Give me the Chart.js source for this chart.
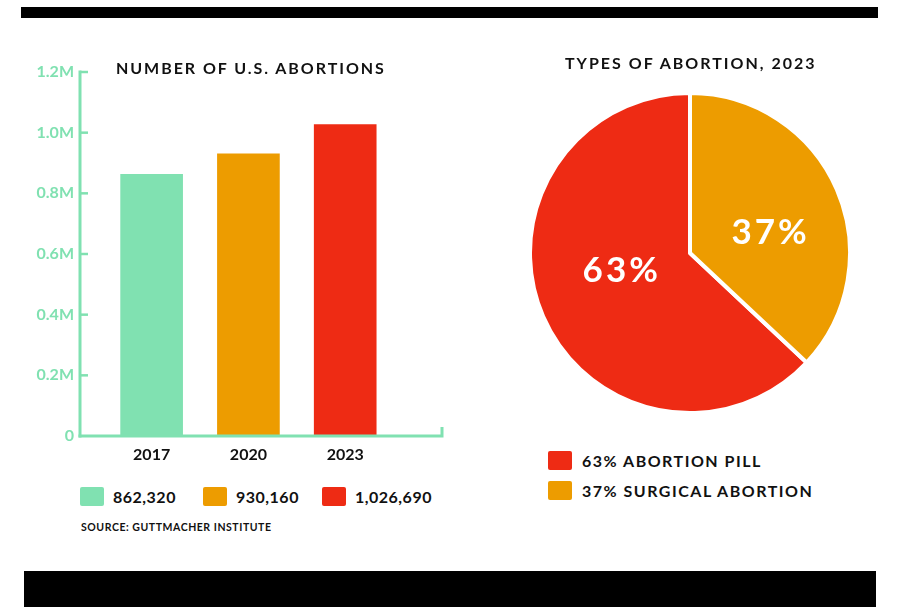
<!DOCTYPE html>
<html>
<head>
<meta charset="utf-8">
<script src="https://cdn.jsdelivr.net/npm/chart.js@4"></script>
<style>
  html, body { margin: 0; padding: 0; background: #fff; }
  body { width: 900px; height: 615px; position: relative; overflow: hidden; font-family: Lato, "Noto Sans", sans-serif; }
  .bar { position: absolute; background: #000; }
  .title { position: absolute; font-weight: 700; font-size: 16px; color: #111; white-space: nowrap; line-height: 20px; }
  #barWrap { position: absolute; left: 0; top: 0; width: 460px; height: 470px; }
  #pieWrap { position: absolute; left: 528px; top: 91px; width: 324px; height: 324px; }
  .legend { position: absolute; display: flex; align-items: center; font-weight: 700; font-size: 16px; color: #111; white-space: nowrap; }
  .sw { display: inline-block; width: 24px; height: 19px; border-radius: 2px; }
  .src { position: absolute; font-size: 10.5px; font-weight: 700; letter-spacing: 0.55px; color: #111; white-space: nowrap; }
</style>
</head>
<body>
<div class="bar" style="left:21px; top:7px; width:857px; height:11px;"></div>
<div class="bar" style="left:24px; top:571px; width:852px; height:36px;"></div>

<div id="barWrap"><canvas id="barChart"></canvas></div>
<div id="pieWrap"><canvas id="pieChart"></canvas></div>

<div class="title" id="barTitle" style="left:116px; top:58px; letter-spacing:1.95px;"></div>
<div class="title" id="pieTitle" style="left:565px; top:53px; letter-spacing:2.0px;"></div>

<div id="barLegend"></div>
<div id="pieLegend"></div>
<div class="src" id="source" style="left:81px; top:521px;"></div>

<script>
// ---------- data ----------
const barTitle = "NUMBER OF U.S. ABORTIONS";
const pieTitle = "TYPES OF ABORTION, 2023";
const years = ["2017", "2020", "2023"];
const abortions = [862320, 930160, 1026690];
const barLegendLabels = ["862,320", "930,160", "1,026,690"];
const yTickValues = [0, 200000, 400000, 600000, 800000, 1000000, 1200000];
const yTickLabels = ["0", "0.2M", "0.4M", "0.6M", "0.8M", "1.0M", "1.2M"];
const pieLabels = ["63% ABORTION PILL", "37% SURGICAL ABORTION"];
const pieShares = [63, 37];
const pieValueLabels = ["63%", "37%"];
const sourceText = "SOURCE: GUTTMACHER INSTITUTE";

const GREEN = "#80E1B1", ORANGE = "#ED9C00", RED = "#EE2B14";
const barColors = [GREEN, ORANGE, RED];
const pieColors = [RED, ORANGE];

document.getElementById("barTitle").textContent = barTitle;
document.getElementById("pieTitle").textContent = pieTitle;
document.getElementById("source").textContent = sourceText;

// HTML legends
const barLegendX = [80, 203, 322];
barLegendLabels.forEach((t, i) => {
  const d = document.createElement("div");
  d.className = "legend";
  d.style.left = barLegendX[i] + "px";
  d.style.top = "487px";
  d.innerHTML = '<span class="sw" style="background:' + barColors[i] + '"></span><span style="margin-left:9px; letter-spacing:0.5px">' + t + '</span>';
  document.getElementById("barLegend").appendChild(d);
});
pieLabels.forEach((t, i) => {
  const d = document.createElement("div");
  d.className = "legend";
  d.style.left = "548px";
  d.style.top = (451 + i * 30) + "px";
  d.innerHTML = '<span class="sw" style="background:' + pieColors[i] + '"></span><span style="margin-left:10px; letter-spacing:1.5px">' + t + '</span>';
  document.getElementById("pieLegend").appendChild(d);
});

const FONT = "Lato, 'Noto Sans', sans-serif";

// ---------- bar chart ----------
const axisPlugin = {
  id: "axisPlugin",
  afterDatasetsDraw(chart) {
    const {ctx, chartArea} = chart;
    const y = chart.scales.y;
    ctx.save();
    ctx.strokeStyle = GREEN;
    ctx.lineWidth = 3;
    ctx.lineCap = "butt";
    const x0 = chartArea.left;
    const yTop = y.getPixelForValue(yTickValues[yTickValues.length - 1]);
    const yBot = y.getPixelForValue(0);
    ctx.beginPath();
    ctx.moveTo(x0, yTop - 1.5);
    ctx.lineTo(x0, yBot + 1.5);
    ctx.stroke();
    ctx.beginPath();
    ctx.moveTo(x0 - 1.5, yBot);
    ctx.lineTo(chartArea.right, yBot);
    ctx.lineTo(chartArea.right, yBot - 9);
    ctx.stroke();
    ctx.lineWidth = 2.5;
    yTickValues.forEach(v => {
      if (v === 0) return;
      const py = y.getPixelForValue(v);
      ctx.beginPath();
      ctx.moveTo(x0, py);
      ctx.lineTo(x0 + 8, py);
      ctx.stroke();
    });
    ctx.restore();
  }
};

new Chart(document.getElementById("barChart"), {
  type: "bar",
  data: {
    datasets: [{
      data: years.map((yr, i) => ({x: i, y: abortions[i]})),
      backgroundColor: barColors,
      barThickness: 62,
      borderWidth: 0
    }]
  },
  options: {
    responsive: true,
    maintainAspectRatio: false,
    animation: false,
    layout: {padding: {top: 72, right: 18, left: 0, bottom: 0}},
    plugins: {legend: {display: false}, tooltip: {enabled: false}},
    scales: {
      x: {
        type: "linear",
        offset: false,
        min: -0.74,
        max: 3.0,
        grid: {display: false, drawTicks: false},
        border: {display: false},
        afterBuildTicks: s => { s.ticks = years.map((_, i) => ({value: i})); },
        afterFit: s => { s.height = 34; },
        ticks: {
          callback: v => years[v],
          color: "#111",
          font: {family: FONT, size: 16, weight: "bold"},
          padding: 9,
          maxRotation: 0,
          autoSkip: false
        }
      },
      y: {
        min: 0,
        max: 1200000,
        grid: {display: false, drawTicks: false},
        border: {display: false},
        afterBuildTicks: s => { s.ticks = yTickValues.map(v => ({value: v})); },
        afterFit: s => { s.width = 80; },
        ticks: {
          callback: (v) => yTickLabels[yTickValues.indexOf(v)],
          color: GREEN,
          font: {family: FONT, size: 16, weight: "bold"},
          padding: 6
        }
      }
    }
  },
  plugins: [axisPlugin]
});

// ---------- pie chart ----------
const pieLabelPlugin = {
  id: "pieLabelPlugin",
  afterDatasetsDraw(chart) {
    const {ctx} = chart;
    const meta = chart.getDatasetMeta(0);
    const factors = [0.45, 0.51];
    const tilt = 9 * Math.PI / 180;
    ctx.save();
    ctx.fillStyle = "#fff";
    ctx.font = "bold 35px " + FONT;
    if ("letterSpacing" in ctx) ctx.letterSpacing = "3px";
    ctx.textAlign = "center";
    ctx.textBaseline = "middle";
    meta.data.forEach((arc, i) => {
      const p = arc.getProps(["x", "y", "startAngle", "endAngle", "outerRadius"], true);
      const mid = (p.startAngle + p.endAngle) / 2 + tilt;
      const r = p.outerRadius * factors[i];
      ctx.fillText(pieValueLabels[i], p.x + Math.cos(mid) * r + 1.5, p.y + Math.sin(mid) * r);
    });
    ctx.restore();
  }
};

new Chart(document.getElementById("pieChart"), {
  type: "pie",
  data: {
    labels: pieLabels,
    datasets: [{
      data: pieShares,
      backgroundColor: pieColors,
      borderColor: "#fff",
      borderWidth: 4
    }]
  },
  options: {
    responsive: true,
    maintainAspectRatio: false,
    animation: false,
    rotation: 360 * pieShares[1] / 100,
    layout: {padding: 0},
    plugins: {legend: {display: false}, tooltip: {enabled: false}}
  },
  plugins: [pieLabelPlugin]
});
</script>
</body>
</html>
